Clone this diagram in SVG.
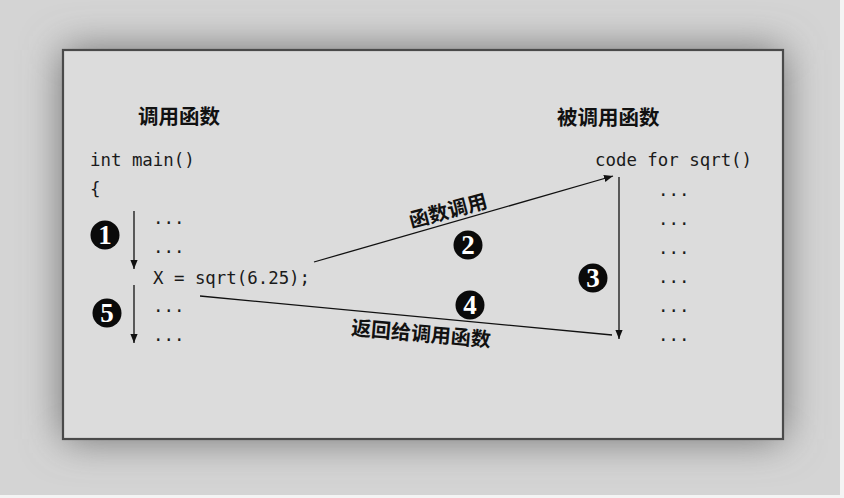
<svg xmlns="http://www.w3.org/2000/svg" width="844" height="498" viewBox="0 0 844 498">
<defs>
<filter id="shadow" x="-20%" y="-20%" width="140%" height="140%">
<feGaussianBlur stdDeviation="20"/>
</filter>
<marker id="arr" viewBox="0 0 10 10" refX="10" refY="5" markerWidth="9" markerHeight="9" markerUnits="userSpaceOnUse" orient="auto">
<path d="M0,1 L10,5 L0,9 Z" fill="#111"/>
</marker>
<style>
.code{font-family:"DejaVu Sans Mono","Liberation Mono",monospace;font-size:17.4px;fill:#1a1a1a}
.title{font-family:"Noto Sans CJK SC","Noto Sans CJK JP",sans-serif;font-size:20.5px;font-weight:bold;fill:#111}
.lbl{font-family:"Noto Sans CJK SC","Noto Sans CJK JP",sans-serif;font-size:20px;font-weight:bold;fill:#111}
.ln{stroke:#111;stroke-width:1.3;fill:none}
.badge circle{fill:#0a0a0a}
.badge text{font-family:"Liberation Serif",serif;font-size:27px;font-weight:bold;fill:#fff;text-anchor:middle}
</style>
</defs>
<rect x="0" y="0" width="844" height="498" fill="#d4d4d4"/>
<rect x="63" y="50" width="720" height="389" fill="#6e6e6e" filter="url(#shadow)"/>
<rect x="840" y="0" width="4" height="498" fill="#f4f4f4"/>
<rect x="0" y="495" width="844" height="3" fill="#f4f4f4"/>
<rect id="panel" x="63" y="50" width="720" height="389" fill="#dcdcdc" stroke="#4a4a4a" stroke-width="2.2"/>

<g id="caller">
<text class="title" x="138" y="124">调用函数</text>
<text class="code" x="90" y="166">int main()</text>
<text class="code" x="90" y="195">{</text>
<text class="code" x="153" y="224">...</text>
<text class="code" x="153" y="253">...</text>
<text class="code" x="153" y="284">X = sqrt(6.25);</text>
<text class="code" x="153" y="312">...</text>
<text class="code" x="153" y="341">...</text>
</g>

<g id="callee">
<text class="title" x="557" y="125">被调用函数</text>
<text class="code" x="595" y="166">code for sqrt()</text>
<text class="code" x="658" y="196">...</text>
<text class="code" x="658" y="225">...</text>
<text class="code" x="658" y="254">...</text>
<text class="code" x="658" y="283">...</text>
<text class="code" x="658" y="312">...</text>
<text class="code" x="658" y="341">...</text>
</g>

<g id="connectors">
<line class="ln" x1="134" y1="211" x2="134" y2="269" marker-end="url(#arr)"/>
<line class="ln" x1="134" y1="285" x2="134" y2="343" marker-end="url(#arr)"/>
<line class="ln" x1="314" y1="262" x2="613" y2="176" marker-end="url(#arr)"/>
<line class="ln" x1="619" y1="177" x2="619" y2="339" marker-end="url(#arr)"/>
<line class="ln" x1="200" y1="296" x2="612" y2="335"/>
<text class="lbl" x="448" y="218" text-anchor="middle" transform="rotate(-15 448 211)">函数调用</text>
<text class="lbl" x="421" y="341" text-anchor="middle" transform="rotate(5 421 334)">返回给调用函数</text>
</g>

<g id="step1" class="badge"><circle cx="105" cy="235" r="14.5"/><text x="105" y="244">1</text></g>
<g id="step2" class="badge"><circle cx="468" cy="245" r="14.5"/><text x="468" y="254">2</text></g>
<g id="step3" class="badge"><circle cx="593" cy="278" r="14.5"/><text x="593" y="287">3</text></g>
<g id="step4" class="badge"><circle cx="470" cy="305" r="14.5"/><text x="470" y="314">4</text></g>
<g id="step5" class="badge"><circle cx="107" cy="313" r="14.5"/><text x="107" y="322">5</text></g>
</svg>
